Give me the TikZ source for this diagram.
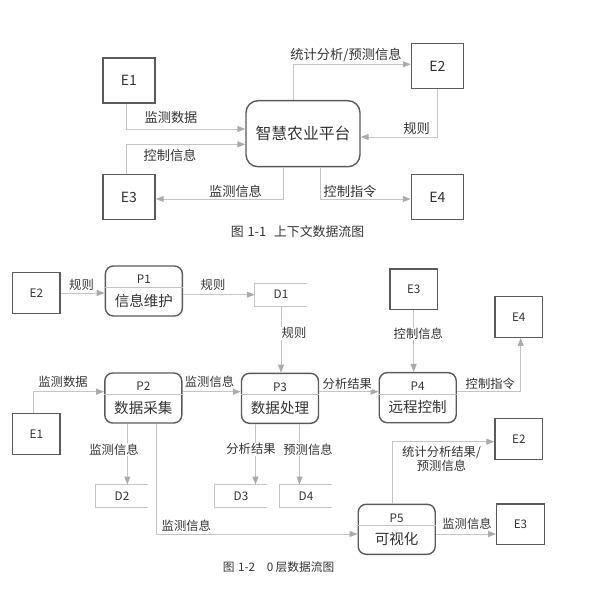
\documentclass[tikz,border=0pt]{standalone}
\usepackage{fontspec}
\setmainfont{Noto Sans CJK SC}
\usetikzlibrary{arrows.meta,calc}
\definecolor{edge}{HTML}{5A5A5A}
\definecolor{wire}{HTML}{C4C4C4}
\definecolor{tip}{HTML}{ABABAB}
\definecolor{ink}{HTML}{333333}
\tikzset{
  ext/.style={draw=edge, line width=1.2pt, minimum width=1.425cm, minimum height=1.215cm,
    inner sep=0pt, text=ink, font=\fontsize{10}{12}\selectfont},
  bigext/.style={ext, minimum width=1.56cm, minimum height=1.35cm, font=\fontsize{12}{14}\selectfont},
  plat/.style={draw=edge, line width=1.2pt, rounded corners=0.36cm, minimum width=3.42cm,
    minimum height=1.98cm, text=ink, font=\fontsize{13.5}{16}\selectfont},
  proc/.style={draw=edge, line width=1.2pt, rounded corners=0.24cm, minimum width=2.31cm,
    minimum height=1.5cm, inner sep=0pt},
  pid/.style={inner sep=0pt, text=ink, font=\fontsize{10}{12}\selectfont},
  pname/.style={inner sep=0pt, text=ink, font=\fontsize{12.4}{14}\selectfont},
  split/.style={draw=wire, line width=0.8pt},
  store/.style={minimum width=1.56cm, minimum height=0.675cm, inner sep=0pt, text=ink,
    font=\fontsize{10}{12}\selectfont},
  storeline/.style={draw=wire, line width=0.8pt},
  flow/.style={draw=wire, line width=0.8pt, -{Triangle[length=0.24cm,width=0.18cm,color=tip]}},
  lbl/.style={fill=white, inner sep=0.5pt, text=ink, font=\fontsize{10.5}{12}\selectfont},
  biglbl/.style={lbl, font=\fontsize{11.3}{13}\selectfont},
  figcap/.style={inner sep=0pt, text=ink, font=\fontsize{11}{13}\selectfont}
}
\begin{document}
\begin{tikzpicture}[x=0.03cm, y=-0.03cm]
  \useasboundingbox (0,0) rectangle (588,596);
  % context diagram
  \node[bigext] (e1) at (129,80.5) {E1};
  \node[bigext] (e2) at (437.5,66) {E2};
  \node[bigext] (e3) at (129,197) {E3};
  \node[bigext] (e4) at (437.5,197) {E4};
  \node[plat] (plat) at (303,133.7) {智慧农业平台};
  \draw[flow] ($(e1.south)+(-3,0)$) |- ($(plat.west)+(0,-4.7)$);
  \draw[flow] ($(e3.north)+(-3,0)$) |- ($(plat.west)+(0,10.6)$);
  \draw[flow] ($(plat.north)+(-10,0)$) |- ($(e2.west)+(0,-1.7)$);
  \draw[flow] (e2.south) |- ($(plat.east)+(0,3.3)$);
  \draw[flow] ($(plat.south)+(-19.7,0)$) |- ($(e3.east)+(0,2)$);
  \draw[flow] ($(plat.south)+(17.7,0)$) |- ($(e4.west)+(0,2)$);
  \node[biglbl] (t1) at (171,117) {监测数据};
  \node[biglbl] (t2) at (170,155) {控制信息};
  \node[biglbl] (t3) at (346,55) {统计分析/预测信息};
  \node[biglbl] (t4) at (416.5,129) {规则};
  \node[biglbl] (t5) at (235.5,191.7) {监测信息};
  \node[biglbl] (t6) at (350,191.7) {控制指令};
  \node[figcap] (cap1) at (297.5,231.7) {图\hspace{0.3em}1-1\hspace{0.6em}上下文数据流图};
  % level 0 diagram
  \node[ext] (e2b) at (36.3,293) {E2};
  \node[ext] (e1b) at (36.3,434) {E1};
  \node[ext] (e3b) at (413.7,289.3) {E3};
  \node[ext] (e4b) at (518.7,317) {E4};
  \node[ext] (e2c) at (518.8,439) {E2};
  \node[ext] (e3c) at (520.5,524.2) {E3};
  \foreach \n/\x/\y/\t in {1/143.9/291/信息维护, 2/143.3/398/数据采集, 3/280/398.3/数据处理,
      4/417.7/397.7/远程控制, 5/396.7/529.3/可视化}{
    \node[proc] (p\n) at (\x,\y) {};
    \draw[split] ($(p\n.north west)+(0,22.3)$) -- ($(p\n.north east)+(0,22.3)$);
    \node[pid] (p\n-id) at ($(p\n.north)+(0,14.3)$) {P\n};
    \node[pname] (p\n-name) at ($(p\n.north)+(0,35.3)$) {\t};
  }
  \node[store] (d1) at (281,294.7) {D1};
  \node[store] (d2) at (122,496) {D2};
  \node[store] (d3) at (241,496) {D3};
  \node[store] (d4) at (306,496) {D4};
  \foreach \d in {d1,d2,d3,d4}
    \draw[storeline] (\d.north east) -- (\d.north west) -- (\d.south west) -- (\d.south east);
  \coordinate (row) at (0,391.7);
  \draw[flow] (e2b.east) -- (e2b.east -| p1.west);
  \draw[flow] (d1.west -| p1.east) -- (d1.west);
  \draw[flow] (d1.south) -- (d1.south |- p3.north);
  \draw[flow] ($(e1b.north)+(-3,0)$) |- (p2.west |- row);
  \draw[flow] (p2.east |- row) -- (p3.west |- row);
  \draw[flow] (p3.east |- row) -- (p4.west |- row);
  \draw[flow] (p4.east |- row) -| ($(e4b.south)+(2,0)$);
  \draw[flow] (e3b.south) -- (e3b.south |- p4.north);
  \draw[flow] ($(p2.south)+(-16,0)$) coordinate (t) -- (t |- d2.north);
  \draw[flow] ($(p2.south)+(13,0)$) |- ($(p5.west)+(0,4.7)$);
  \draw[flow] ($(p3.south)+(-24.5,0)$) coordinate (t) -- (t |- d3.north);
  \draw[flow] ($(p3.south)+(19.5,0)$) coordinate (t) -- (t |- d4.north);
  \draw[flow] ($(p5.east)+(0,4.7)$) coordinate (t) -- (t -| e3c.west);
  \draw[flow] ($(p5.north)+(-4,0)$) |- ($(e2c.west)+(0,2.7)$);
  \node[lbl] (r1) at (81.5,285) {规则};
  \node[lbl] (r2) at (213,285) {规则};
  \node[lbl] (r3) at (294,333.3) {规则};
  \node[lbl] (m1) at (63,381.7) {监测数据};
  \node[lbl] (m2) at (209.5,381.7) {监测信息};
  \node[lbl] (a1) at (347.3,384) {分析结果};
  \node[lbl] (c1) at (418.3,334) {控制信息};
  \node[lbl] (c2) at (490.3,384) {控制指令};
  \node[lbl] (m3) at (114,449.3) {监测信息};
  \node[lbl] (a2) at (251,449.3) {分析结果};
  \node[lbl] (f1) at (308,449.3) {预测信息};
  \node[lbl, align=center, font=\fontsize{10.5}{9.5}\selectfont] (s1) at (441.5,458.5)
    {统计分析结果/\\预测信息};
  \node[lbl] (m4) at (186.3,526) {监测信息};
  \node[lbl] (m5) at (467,524) {监测信息};
  \node[figcap, font=\fontsize{10}{12}\selectfont] (cap2) at (278.5,566.7) {图\hspace{0.3em}1-2\hspace{1em}0\hspace{0.2em}层数据流图};
\end{tikzpicture}
\end{document}
